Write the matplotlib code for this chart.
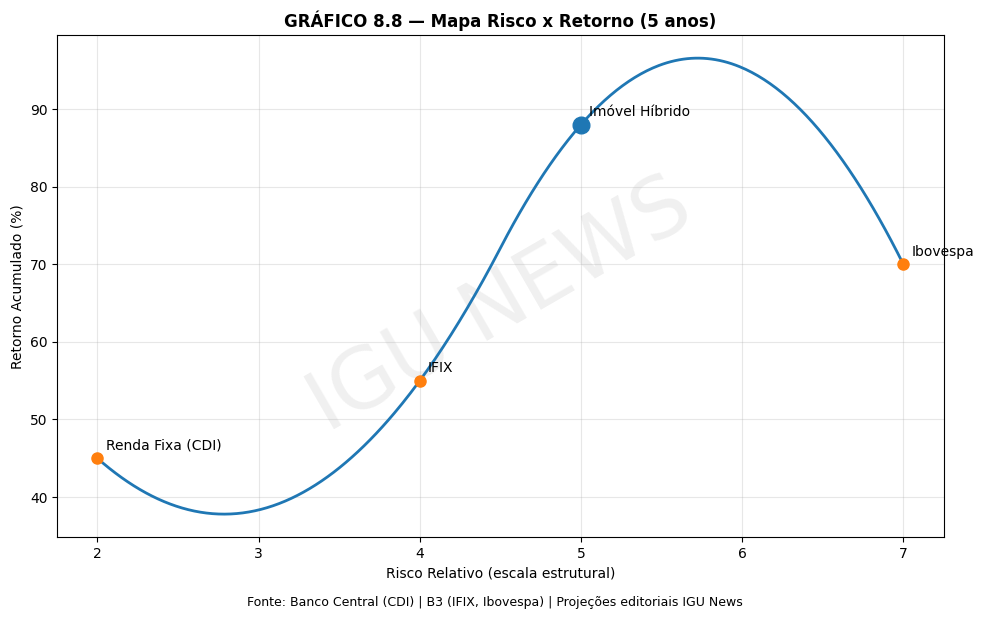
import numpy as np
import matplotlib
matplotlib.use("Agg")
import matplotlib.pyplot as plt

# Data
assets = ["Renda Fixa (CDI)", "IFIX", "Imóvel Híbrido", "Ibovespa"]
risk = [2, 4, 5, 7]
ret = [45, 55, 88, 70]
highlight = "Imóvel Híbrido"


def bspline_basis(t, k, x):
    """Cox-de Boor evaluation of all B-spline basis functions."""
    x = np.atleast_1d(np.asarray(x, float))
    n = len(t) - k - 1
    B = np.zeros((len(x), len(t) - 1))
    for i in range(len(t) - 1):
        if t[i] < t[i + 1]:
            B[:, i] = (x >= t[i]) & (x < t[i + 1])
    last = np.max(np.nonzero(np.diff(t) > 0)[0])
    B[x == t[-1], last] = 1.0
    for d in range(1, k + 1):
        Bn = np.zeros((len(x), len(t) - 1 - d))
        for i in range(len(t) - 1 - d):
            a = 0.0
            if t[i + d] > t[i]:
                a = (x - t[i]) / (t[i + d] - t[i]) * B[:, i]
            b = 0.0
            if t[i + d + 1] > t[i + 1]:
                b = (t[i + d + 1] - x) / (t[i + d + 1] - t[i + 1]) * B[:, i + 1]
            Bn[:, i] = a + b
        B = Bn
    return B[:, :n]


def quad_interp_spline(x, y, xs):
    x = np.asarray(x, float)
    y = np.asarray(y, float)
    k = 2
    mids = (x[1:] + x[:-1]) / 2.0
    t = np.r_[(x[0],) * (k + 1), mids[1:-1], (x[-1],) * (k + 1)]
    A = bspline_basis(t, k, x)
    c = np.linalg.solve(A, y)
    return bspline_basis(t, k, xs) @ c


xs = np.linspace(min(risk), max(risk), 400)
ys = quad_interp_spline(risk, ret, xs)

fig, ax = plt.subplots(figsize=(9.84, 6.2), dpi=100)
ax.plot(xs, ys, color="#1f77b4", linewidth=2, zorder=2)

for name, xv, yv in zip(assets, risk, ret):
    if name == highlight:
        ax.plot(xv, yv, "o", color="#1f77b4", markersize=12, zorder=3)
    else:
        ax.plot(xv, yv, "o", color="#ff7f0e", markersize=8, zorder=3)
    ax.annotate(name, (xv, yv), xytext=(6, 6), textcoords="offset points",
                fontsize=10)

ax.grid(True, alpha=0.3)
ax.set_title("GRÁFICO 8.8 — Mapa Risco x Retorno (5 anos)",
             fontsize=12, fontweight="bold")
ax.set_xlabel("Risco Relativo (escala estrutural)")
ax.set_ylabel("Retorno Acumulado (%)")

ax.text(0.5, 0.46, "IGU NEWS", transform=ax.transAxes, fontsize=60,
        color="gray", alpha=0.12, rotation=30, ha="center", va="center",
        zorder=0)

fig.text(0.503, 0.022, "Fonte: Banco Central (CDI) | B3 (IFIX, Ibovespa) | Projeções editoriais IGU News",
         ha="center", fontsize=9)

fig.subplots_adjust(left=0.058, right=0.959, top=0.943, bottom=0.134)
fig.savefig("out.png", dpi=100)
